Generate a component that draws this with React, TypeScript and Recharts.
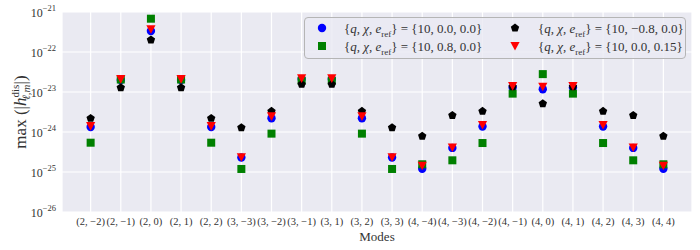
import React from "react";
import { ScatterChart, Scatter, XAxis, YAxis, CartesianGrid, Legend } from "recharts";

const modes = [
  "(2, −2)", "(2, −1)", "(2, 0)", "(2, 1)", "(2, 2)",
  "(3, −3)", "(3, −2)", "(3, −1)", "(3, 1)", "(3, 2)", "(3, 3)",
  "(4, −4)", "(4, −3)", "(4, −2)", "(4, −1)", "(4, 0)", "(4, 1)", "(4, 2)", "(4, 3)", "(4, 4)",
];

const hChi0E0 = [1.33e-24, 2.0e-23, 3.35e-22, 2.0e-23, 1.33e-24, 2.3e-25, 2.2e-24, 2.1e-23, 2.1e-23, 2.2e-24, 2.3e-25, 1.21e-25, 4.0e-25, 1.37e-24, 1.3e-23, 1.17e-23, 1.3e-23, 1.37e-24, 4.0e-25, 1.21e-25];
const hChi08 = [5.4e-25, 2.05e-23, 6.8e-22, 2.05e-23, 5.4e-25, 1.19e-25, 9.1e-25, 1.9e-23, 1.9e-23, 9.1e-25, 1.19e-25, 1.56e-25, 1.96e-25, 5.3e-25, 9.1e-24, 2.8e-23, 9.1e-24, 5.3e-25, 1.96e-25, 1.56e-25];
const hChiM08 = [2.2e-24, 1.28e-23, 2.0e-22, 1.28e-23, 2.2e-24, 1.29e-24, 3.3e-24, 1.56e-23, 1.56e-23, 3.3e-24, 1.29e-24, 7.9e-25, 2.6e-24, 3.3e-24, 1.35e-23, 5.1e-24, 1.35e-23, 3.3e-24, 2.6e-24, 7.9e-25];
const hE015 = [1.41e-24, 2.1e-23, 3.7e-22, 2.1e-23, 1.41e-24, 2.35e-25, 2.46e-24, 2.2e-23, 2.2e-23, 2.46e-24, 2.35e-25, 1.44e-25, 4.1e-25, 1.5e-24, 1.41e-23, 1.36e-23, 1.41e-23, 1.5e-24, 4.1e-25, 1.44e-25];

const legendValues = ["10, 0.0, 0.0", "10, 0.8, 0.0", "10, −0.8, 0.0", "10, 0.0, 0.15"];
const yTicks = [1e-26, 1e-25, 1e-24, 1e-23, 1e-22, 1e-21];
const xTicks = modes.map((_, i) => i);

const FONT = "'Liberation Serif', 'DejaVu Serif', serif";
const TXT = "#333";

const mk = (vals: number[]) => vals.map((y, i) => ({ x: i, y }));

const CircleM = (p: any) => <circle cx={p.cx} cy={p.cy} r={4.2} fill="#0000ff" />;
const SquareM = (p: any) => <rect x={p.cx - 4} y={p.cy - 4} width={8} height={8} fill="#008000" />;
const pentPts = (cx: number, cy: number, r: number) =>
  Array.from({ length: 5 }, (_, k) => {
    const a = -Math.PI / 2 + (k * 2 * Math.PI) / 5;
    return `${cx + r * Math.cos(a)},${cy + r * Math.sin(a)}`;
  }).join(" ");
const PentM = (p: any) => <polygon points={pentPts(p.cx, p.cy, 4.4)} fill="#000000" />;
const TriM = (p: any) => (
  <polygon points={`${p.cx - 4.6},${p.cy - 4} ${p.cx + 4.6},${p.cy - 4} ${p.cx},${p.cy + 4.6}`} fill="#ff0000" />
);

const markers = [CircleM, SquareM, PentM, TriM];

const YTick = (props: any) => {
  const { x, y, payload } = props;
  const e = Math.round(Math.log10(payload.value));
  return (
    <text x={x} y={y} textAnchor="end" fontFamily={FONT} fill={TXT}>
      <tspan fontSize={12} dy={4.5}>10</tspan>
      <tspan fontSize={8.5} dy={-6}>{`−${-e}`}</tspan>
    </text>
  );
};

const XTick = (props: any) => {
  const { x, y, payload } = props;
  return (
    <text x={x} y={y} dy={7} textAnchor="middle" fontFamily={FONT} fontSize={10.5} fill={TXT}>
      {modes[payload.value]}
    </text>
  );
};

const YLab = () => (
  <text transform="translate(26,112) rotate(-90)" textAnchor="middle" fontFamily={FONT} fontSize={17} fill={TXT}>
    max (|<tspan fontStyle="italic">h</tspan>
    <tspan fontSize={11} dy={-7}>dis</tspan>
    <tspan fontSize={11} dx={-15} dy={11} fontStyle="italic">ℓ,m</tspan>
    <tspan dy={-4}>|)</tspan>
  </text>
);

const XLab = () => (
  <text x={377} y={241} textAnchor="middle" fontFamily={FONT} fontSize={13} fill={TXT}>
    Modes
  </text>
);

const LegendLabel = ({ v }: { v: string }) => (
  <span style={{ fontFamily: FONT, fontSize: 13, color: TXT, whiteSpace: "nowrap" }}>
    {"{"}<i>q</i>, <i>χ</i>, <i>e</i>
    <sub style={{ fontSize: 9 }}>ref</sub>
    {"} = {"}{v}{"}"}
  </span>
);

const legendPos = [
  { mx: 18, tx: 40, y: 11 },
  { mx: 18, tx: 40, y: 29 },
  { mx: 211, tx: 234, y: 11 },
  { mx: 211, tx: 234, y: 29 },
];

const LegendContent = () => (
  <div
    style={{
      position: "relative",
      width: 382,
      height: 42,
      boxSizing: "border-box",
      border: "1px solid #b5b5b5",
      borderRadius: 4,
      background: "rgba(234,234,242,0.8)",
    }}
  >
    {legendValues.map((v, i) => {
      const M = markers[i];
      const pos = legendPos[i];
      return (
        <React.Fragment key={i}>
          <svg width={12} height={12} style={{ position: "absolute", left: pos.mx - 7, top: pos.y - 7 }}>
            <M cx={6} cy={6} />
          </svg>
          <div style={{ position: "absolute", left: pos.tx - 1, top: pos.y - 10, lineHeight: "18px" }}>
            <LegendLabel v={v} />
          </div>
        </React.Fragment>
      );
    })}
  </div>
);

const series = [hChi0E0, hChi08, hChiM08, hE015];

export default function App() {
  return (
    <div style={{ position: "absolute", left: 0, top: 0, width: 700, height: 250, background: "#fff" }}>
      <ScatterChart width={700} height={250} margin={{ top: 12, right: 8, bottom: 8, left: 2 }}>
        <CartesianGrid fill="#EAEAF2" fillOpacity={1} stroke="#ffffff" strokeWidth={1.2} />
        <XAxis
          type="number"
          dataKey="x"
          domain={[-0.95, 19.95]}
          ticks={xTicks}
          interval={0}
          allowDataOverflow
          height={30}
          axisLine={false}
          tickLine={false}
          tickSize={6}
          tickMargin={0}
          tick={<XTick />}
          label={<XLab />}
        />
        <YAxis
          type="number"
          dataKey="y"
          scale="log"
          domain={[1e-26, 1e-21]}
          ticks={yTicks}
          interval={0}
          allowDataOverflow
          width={60}
          axisLine={false}
          tickLine={false}
          tickSize={6}
          tickMargin={0}
          tick={<YTick />}
          label={<YLab />}
        />
        <Legend
          layout="vertical"
          verticalAlign="middle"
          align="center"
          content={<LegendContent />}
          wrapperStyle={{ position: "absolute", left: 304, top: 17, width: 382, height: 42 }}
        />
        {series.map((vals, i) => (
          <Scatter
            key={i}
            name={legendValues[i]}
            data={mk(vals)}
            shape={markers[i]}
            isAnimationActive={false}
          />
        ))}
      </ScatterChart>
    </div>
  );
}
